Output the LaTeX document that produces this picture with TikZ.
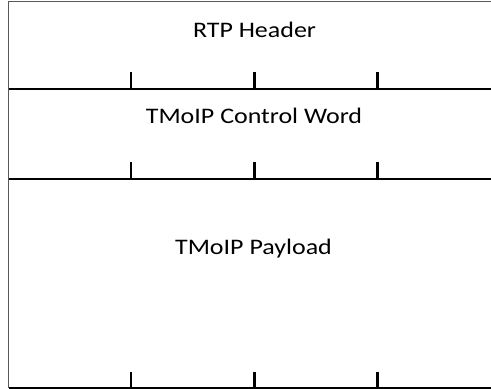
\documentclass[tikz,border=0pt]{standalone}
\usepackage{fontspec}
\setmainfont{Carlito}
\usepackage{graphicx}
\begin{document}
\begin{tikzpicture}[x=1pt,y=-1pt,
  border/.style={draw=black!65,line width=1.3pt},
  sepline/.style={draw=black,line width=2pt},
  tickline/.style={draw=black,line width=2.2pt},
  label/.style={anchor=base,inner sep=0pt,font=\fontsize{22.2}{26}\selectfont}]
\useasboundingbox (0,0) rectangle (491,389);
% outer border (right side lies beyond the picture)
\draw[border] (491,1.5) -- (8.5,1.5) -- (8.5,388);
% section lines
\foreach \yy in {88.7,178.5,388} {
  \draw[sepline] (8.5,\yy) -- (491,\yy);
  \foreach \xx in {131,254.5,377.5} {
    \draw[tickline] (\xx,\yy) -- (\xx,\yy-16.5);
  }
}
\node[label] (rtp) at (254.5,37.7) {\scalebox{1.17}[1]{RTP Header}};
\node[label] (cw) at (254,123) {\scalebox{1.17}[1]{TMoIP Control Word}};
\node[label] (pl) at (253.5,254.3) {\scalebox{1.17}[1]{TMoIP Payload}};
\end{tikzpicture}
\end{document}
